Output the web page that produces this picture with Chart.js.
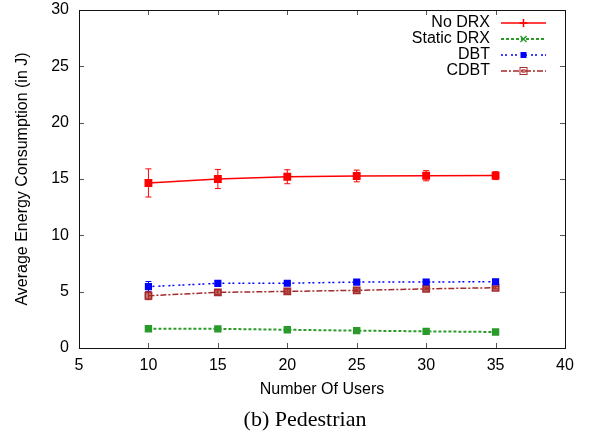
<!DOCTYPE html>
<html>
<head>
<meta charset="utf-8">
<script src="https://cdn.jsdelivr.net/npm/chart.js@4.4.1/dist/chart.umd.min.js"></script>
<style>
    body { margin: 0; background: #fff; }
    #wrap { width: 595px; height: 432px; }
</style>
</head>
<body>
<div id="wrap"><canvas id="energyChart" width="595" height="432"></canvas></div>
<script>
// Data (energy per user count, pedestrian case)
var users = [10, 15, 20, 25, 30, 35];

var noDrx = [14.65, 15.0, 15.2, 15.27, 15.29, 15.3];
var noDrxErr = [1.25, 0.85, 0.62, 0.52, 0.45, 0.35];

var staticDrx = [1.71, 1.70, 1.62, 1.54, 1.48, 1.42];
var staticDrxErr = [0.1, 0.08, 0.08, 0.07, 0.07, 0.06];

var dbt = [5.45, 5.74, 5.75, 5.85, 5.86, 5.88];
var dbtErr = [0.45, 0.25, 0.15, 0.12, 0.12, 0.1];

var cdbt = [4.64, 4.94, 5.02, 5.12, 5.25, 5.35];
var cdbtErr = [0.35, 0.2, 0.15, 0.12, 0.1, 0.1];

var xTicks = [5, 10, 15, 20, 25, 30, 35, 40];
var yTicks = [0, 5, 10, 15, 20, 25, 30];

var FONT = 'Liberation Sans';
Chart.defaults.color = '#000';

function points(values, errs) {
    return users.map(function (u, i) {
        return { x: u, y: values[i], err: errs[i] };
    });
}

// vertical error bars with caps, drawn under the markers
var errorBars = {
    id: 'errorBars',
    beforeDatasetsDraw: function (chart) {
        var ctx = chart.ctx;
        var yScale = chart.scales.y;
        chart.data.datasets.forEach(function (ds, di) {
            var meta = chart.getDatasetMeta(di);
            ctx.save();
            ctx.strokeStyle = ds.borderColor;
            ctx.lineWidth = 1;
            meta.data.forEach(function (pt, i) {
                var d = ds.data[i];
                var top = yScale.getPixelForValue(d.y + d.err);
                var bot = yScale.getPixelForValue(d.y - d.err);
                ctx.beginPath();
                ctx.moveTo(pt.x, top); ctx.lineTo(pt.x, bot);
                ctx.moveTo(pt.x - 3, top); ctx.lineTo(pt.x + 3, top);
                ctx.moveTo(pt.x - 3, bot); ctx.lineTo(pt.x + 3, bot);
                ctx.stroke();
            });
            ctx.restore();
        });
    }
};

// gnuplot style box with inward ticks on all sides
var frame = {
    id: 'frame',
    beforeDatasetsDraw: function (chart) {
        var ctx = chart.ctx;
        var a = chart.chartArea;
        var xs = chart.scales.x, ys = chart.scales.y;
        ctx.save();
        ctx.strokeStyle = '#555';
        ctx.lineWidth = 1;
        ctx.beginPath();
        xTicks.forEach(function (v) {
            var px = Math.round(xs.getPixelForValue(v)) + 0.5;
            ctx.moveTo(px, a.bottom); ctx.lineTo(px, a.bottom - 5);
            ctx.moveTo(px, a.top); ctx.lineTo(px, a.top + 5);
        });
        yTicks.forEach(function (v) {
            var py = Math.round(ys.getPixelForValue(v)) + 0.5;
            ctx.moveTo(a.left, py); ctx.lineTo(a.left + 5, py);
            ctx.moveTo(a.right, py); ctx.lineTo(a.right - 5, py);
        });
        ctx.stroke();
        ctx.strokeStyle = '#111';
        ctx.strokeRect(Math.round(a.left) + 0.5, Math.round(a.top) + 0.5,
            Math.round(a.right - a.left), Math.round(a.bottom - a.top));
        ctx.restore();
    }
};

// legend in the top right corner: text right aligned, sample line on the right
var keyBox = {
    id: 'keyBox',
    afterDraw: function (chart) {
        var ctx = chart.ctx;
        var a = chart.chartArea;
        var textRight = a.right - 75;
        var lineL = a.right - 64, lineR = a.right - 19, mid = (lineL + lineR) / 2;
        ctx.save();
        ctx.font = '16px "' + FONT + '"';
        ctx.textAlign = 'right';
        ctx.textBaseline = 'middle';
        chart.data.datasets.forEach(function (ds, i) {
            var y = a.top + 13 + i * 16;
            ctx.fillStyle = '#000';
            ctx.fillText(ds.label, textRight, y);
            ctx.strokeStyle = ds.borderColor;
            ctx.lineWidth = ds.borderWidth;
            ctx.setLineDash(ds.borderDash || []);
            ctx.beginPath();
            ctx.moveTo(lineL, y); ctx.lineTo(lineR, y);
            ctx.stroke();
            ctx.setLineDash([]);
            ctx.lineWidth = 1.5;
            ctx.fillStyle = ds.borderColor;
            ctx.beginPath();
            if (ds.keyMark === 'plus') {
                ctx.moveTo(mid - 4, y); ctx.lineTo(mid + 4, y);
                ctx.moveTo(mid, y - 4); ctx.lineTo(mid, y + 4);
                ctx.stroke();
            } else if (ds.keyMark === 'cross') {
                ctx.moveTo(mid - 3, y - 3); ctx.lineTo(mid + 3, y + 3);
                ctx.moveTo(mid - 3, y + 3); ctx.lineTo(mid + 3, y - 3);
                ctx.stroke();
            } else if (ds.keyMark === 'star') {
                ctx.fillRect(mid - 3, y - 3, 6, 6);
            } else {
                ctx.lineWidth = 1;
                ctx.strokeRect(mid - 3.5, y - 3.5, 7, 7);
                ctx.globalAlpha = 0.6;
                ctx.fillRect(mid - 2, y - 2, 4, 4);
                ctx.globalAlpha = 1;
            }
        });
        ctx.restore();
    }
};

var caption = {
    id: 'caption',
    afterDraw: function (chart) {
        var ctx = chart.ctx;
        ctx.save();
        ctx.font = '22px "Liberation Serif"';
        ctx.fillStyle = '#000';
        ctx.textAlign = 'center';
        ctx.textBaseline = 'middle';
        ctx.fillText('(b) Pedestrian', 305, 420);
        ctx.restore();
    }
};

var ctxEnergy = document.getElementById('energyChart').getContext('2d');
var energyChart = new Chart(ctxEnergy, {
    type: 'line',
    data: {
        datasets: [{
            label: 'No DRX',
            data: points(noDrx, noDrxErr),
            borderColor: '#ff0000',
            backgroundColor: '#ff0000',
            borderWidth: 1.5,
            pointStyle: 'rect',
            pointRadius: 4.5,
            keyMark: 'plus'
        }, {
            label: 'Static DRX',
            data: points(staticDrx, staticDrxErr),
            borderColor: '#2a9a2a',
            backgroundColor: '#2a9a2a',
            borderWidth: 2,
            borderDash: [3, 2],
            pointStyle: 'rect',
            pointRadius: 3.8,
            keyMark: 'cross'
        }, {
            label: 'DBT',
            data: points(dbt, dbtErr),
            borderColor: '#0000ff',
            backgroundColor: '#0000ff',
            borderWidth: 1.5,
            borderDash: [2, 2, 2, 4],
            pointStyle: 'rect',
            pointRadius: 4,
            keyMark: 'star'
        }, {
            label: 'CDBT',
            data: points(cdbt, cdbtErr),
            borderColor: '#a52a2a',
            backgroundColor: 'rgba(165, 42, 42, 0.65)',
            borderWidth: 1.5,
            borderDash: [6, 2, 2, 2],
            pointStyle: 'rect',
            pointRadius: 4.5,
            keyMark: 'box'
        }]
    },
    options: {
        responsive: false,
        animation: false,
        layout: { padding: { top: 10, right: 30, left: 0, bottom: 0 } },
        elements: { line: { tension: 0 }, point: { borderWidth: 1 } },
        plugins: {
            legend: { display: false },
            tooltip: { enabled: false }
        },
        scales: {
            x: {
                type: 'linear',
                min: 5,
                max: 40,
                afterBuildTicks: function (s) { s.ticks = xTicks.map(function (v) { return { value: v }; }); },
                afterFit: function (s) { s.height = 84; s.paddingLeft = 0; s.paddingRight = 0; },
                grid: { display: false, drawTicks: false },
                border: { display: false },
                ticks: { padding: 8, font: { family: FONT, size: 16 } },
                title: {
                    display: true,
                    text: 'Number Of Users',
                    font: { family: FONT, size: 16 },
                    padding: { top: 0, bottom: 33 }
                }
            },
            y: {
                min: 0,
                max: 30,
                afterBuildTicks: function (s) { s.ticks = yTicks.map(function (v) { return { value: v }; }); },
                afterFit: function (s) { s.width = 79; s.paddingTop = 0; s.paddingBottom = 0; },
                grid: { display: false, drawTicks: false },
                border: { display: false },
                ticks: { padding: 10, font: { family: FONT, size: 16 } },
                title: {
                    display: true,
                    text: 'Average Energy Consumption (in J)',
                    font: { family: FONT, size: 16 },
                    padding: { top: 13, bottom: 0 }
                }
            }
        }
    },
    plugins: [frame, errorBars, keyBox, caption]
});
</script>
</body>
</html>
